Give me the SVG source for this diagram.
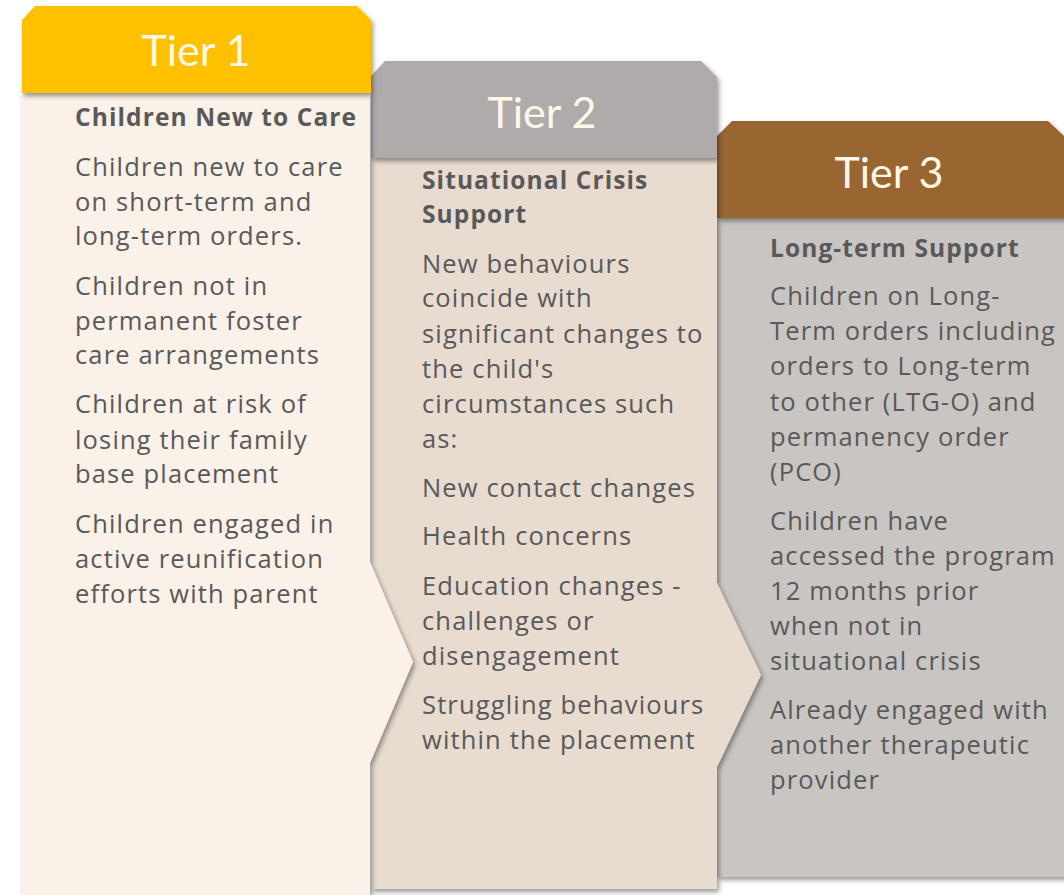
<svg xmlns="http://www.w3.org/2000/svg" width="1064" height="895" viewBox="0 0 1064 895">
<defs>
<filter id="sh" x="-10%" y="-10%" width="130%" height="130%">
<feDropShadow dx="2" dy="3" stdDeviation="2.5" flood-color="#000" flood-opacity="0.4"/>
</filter>
<style>
.hd{font-family:Lato,"Open Sans",sans-serif;font-size:43px;fill:#FFF8E8;text-anchor:middle}
.tt{font-family:"Open Sans",Lato,sans-serif;font-size:24.5px;font-weight:bold;fill:#595959;letter-spacing:1.1px}
.tx{font-family:"Open Sans",Lato,sans-serif;font-size:25.5px;fill:#595959;letter-spacing:1.15px}
</style>
</defs>
<rect width="1064" height="895" fill="#FFFFFF"/>
<g id="tier3">
<path d="M717,218 H1070 V877 H717 Z" fill="#C9C5C2" filter="url(#sh)"/>
<path d="M717,136 L732,121 L1048,121 L1064,136 L1070,136 V218 H717 Z" fill="#996633" filter="url(#sh)"/>
<text class="hd" x="889" y="188">Tier 3</text>
<text class="tt" x="770" y="257">Long-term Support</text>
<text class="tx" x="770" y="305">Children on Long-</text>
<text class="tx" x="770" y="340">Term orders including</text>
<text class="tx" x="770" y="375">orders to Long-term</text>
<text class="tx" x="770" y="411">to other (LTG-O) and</text>
<text class="tx" x="770" y="446">permanency order</text>
<text class="tx" x="770" y="481">(PCO)</text>
<text class="tx" x="770" y="530">Children have</text>
<text class="tx" x="770" y="565">accessed the program</text>
<text class="tx" x="770" y="600">12 months prior</text>
<text class="tx" x="770" y="635">when not in</text>
<text class="tx" x="770" y="670">situational crisis</text>
<text class="tx" x="770" y="719">Already engaged with</text>
<text class="tx" x="770" y="754">another therapeutic</text>
<text class="tx" x="770" y="789">provider</text>
</g>
<g id="tier2">
<path d="M371,158 H717 V583 L761,675 L717,767 V889 H371 Z" fill="#E8DBD0" filter="url(#sh)"/>
<path d="M371,76 L385,61 L701,61 L717,77 V158 H371 Z" fill="#AFABAB" filter="url(#sh)"/>
<text class="hd" x="542" y="128">Tier 2</text>
<text class="tt" x="422" y="189">Situational Crisis</text>
<text class="tt" x="422" y="223">Support</text>
<text class="tx" x="422" y="273">New behaviours</text>
<text class="tx" x="422" y="307">coincide with</text>
<text class="tx" x="422" y="343">significant changes to</text>
<text class="tx" x="422" y="378">the child's</text>
<text class="tx" x="422" y="413">circumstances such</text>
<text class="tx" x="422" y="448">as:</text>
<text class="tx" x="422" y="497">New contact changes</text>
<text class="tx" x="422" y="545">Health concerns</text>
<text class="tx" x="422" y="595">Education changes -</text>
<text class="tx" x="422" y="630">challenges or</text>
<text class="tx" x="422" y="665">disengagement</text>
<text class="tx" x="422" y="714">Struggling behaviours</text>
<text class="tx" x="422" y="749">within the placement</text>
</g>
<g id="tier1">
<path d="M22,93 H370 V562 L413,662 L370,763 V905 H22 Z" fill="#FAF1E8" filter="url(#sh)"/>
<path d="M22,20 L35,6 L357,6 L371,20 V93 H22 Z" fill="#FFC000" filter="url(#sh)"/>
<text class="hd" x="196" y="66">Tier 1</text>
<text class="tt" x="75" y="126">Children New to Care</text>
<text class="tx" x="75" y="176">Children new to care</text>
<text class="tx" x="75" y="211">on short-term and</text>
<text class="tx" x="75" y="245">long-term orders.</text>
<text class="tx" x="75" y="295">Children not in</text>
<text class="tx" x="75" y="330">permanent foster</text>
<text class="tx" x="75" y="364">care arrangements</text>
<text class="tx" x="75" y="413">Children at risk of</text>
<text class="tx" x="75" y="449">losing their family</text>
<text class="tx" x="75" y="483">base placement</text>
<text class="tx" x="75" y="533">Children engaged in</text>
<text class="tx" x="75" y="568">active reunification</text>
<text class="tx" x="75" y="603">efforts with parent</text>
</g>
</svg>
